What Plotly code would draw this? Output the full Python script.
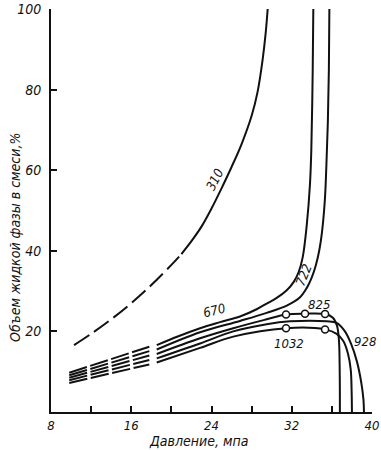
import plotly.graph_objects as go

# ---- data (pressure, MPa ; liquid volume, %) ----
p310_dash = [10.3, 12.0, 14.0, 16.0, 18.0, 20.0, 21.0]
v310_dash = [16.6, 19.4, 23.0, 27.0, 31.5, 36.5, 39.2]
p310 = [21.0, 22.0, 23.0, 24.0, 25.0, 26.0, 27.0, 28.0, 28.6, 29.1, 29.4, 29.6]
v310 = [39.2, 42.4, 46.0, 50.5, 55.5, 60.8, 66.5, 73.5, 79.5, 87.5, 94.0, 100.0]

p_bundle_dash = [9.82, 17.8]
v670_dash = [9.75, 16.2]
v722_dash = [9.1, 15.1]
v825_dash = [8.5, 14.0]
v928_dash = [7.9, 12.9]
v1032_dash = [7.2, 11.8]

p670 = [18.54, 20.7, 22.86, 24.85, 26.84, 28.5, 29.5, 30.5, 31.5, 32.2, 32.7, 33.1, 33.5, 33.82, 33.95, 34.09, 34.15]
v670 = [16.6, 18.8, 20.8, 22.3, 23.7, 25.5, 26.9, 28.3, 30.2, 32.3, 34.8, 38.5, 46.5, 56.7, 65.0, 85.0, 100.0]

p722 = [18.54, 22.86, 26.84, 29.5, 31.5, 32.8, 33.5, 34.0, 34.4, 34.75, 35.0, 35.3, 35.45, 35.6, 35.7, 35.75]
v722 = [15.5, 19.8, 22.6, 24.6, 26.4, 28.4, 30.8, 33.4, 36.4, 40.2, 44.3, 52.6, 61.0, 72.0, 85.0, 100.0]

p825 = [18.54, 22.86, 26.17, 29.5, 31.43, 33.32, 35.32, 36.1, 36.5, 36.7, 36.78, 36.8]
v825 = [14.4, 18.3, 20.8, 23.0, 24.2, 24.4, 24.3, 23.4, 21.5, 18.0, 10.0, 0.0]

p928 = [18.54, 22.86, 26.17, 29.5, 31.83, 35.49, 36.48, 37.3, 37.9, 38.5, 38.95, 39.15, 39.2]
v928 = [13.3, 17.0, 20.0, 21.8, 22.5, 22.5, 22.1, 20.0, 17.0, 12.5, 7.0, 3.0, 0.0]

p1032 = [18.54, 22.86, 26.17, 31.43, 35.32, 36.48, 37.14, 37.6, 37.88, 37.97, 38.0]
v1032 = [12.3, 15.9, 18.7, 20.8, 20.5, 19.4, 17.6, 14.5, 10.5, 5.0, 0.0]

p825_pts = [31.43, 33.32, 35.32]
v825_pts = [24.2, 24.4, 24.3]
p1032_pts = [31.43, 35.32]
v1032_pts = [20.8, 20.5]

label_text = ["310", "670", "722", "825", "928", "1032"]
label_p = [24.35, 24.25, 33.25, 34.7, 39.3, 31.73]
label_v = [57.6, 25.3, 34.0, 26.8, 17.4, 17.1]
label_angle = [-63, -14, -68, 0, 0, 0]

x_ticks = [8, 16, 24, 32, 40]
y_ticks = [20, 40, 60, 80, 100]
x_title = "Давление, мпа"
y_title = "Объем жидкой фазы в смеси,%"

FONT = "Liberation Sans Narrow, DejaVu Sans Condensed, Arial Narrow, sans-serif"
INK = "#111111"
LW = 2

fig = go.Figure()

def line(x, y, dash="solid"):
    fig.add_trace(go.Scatter(x=x, y=y, mode="lines",
                             line=dict(color=INK, width=LW, dash=dash, shape="spline", smoothing=1.0),
                             hoverinfo="skip", showlegend=False, cliponaxis=True))

line(p310_dash, v310_dash, dash="18px,6px")
line(p310, v310)
for vd in [v670_dash, v722_dash, v825_dash, v928_dash, v1032_dash]:
    line(p_bundle_dash, vd, dash="18.5px,3.5px")
for px_, vy_ in [(p670, v670), (p722, v722), (p825, v825), (p928, v928), (p1032, v1032)]:
    line(px_, vy_)

for px_, vy_ in [(p825_pts, v825_pts), (p1032_pts, v1032_pts)]:
    fig.add_trace(go.Scatter(x=px_, y=vy_, mode="markers",
                             marker=dict(symbol="circle", size=7, color="white",
                                         line=dict(color=INK, width=1.5)),
                             hoverinfo="skip", showlegend=False))

for t, xx, yy, a in zip(label_text, label_p, label_v, label_angle):
    fig.add_annotation(x=xx, y=yy, text=t, textangle=a, showarrow=False,
                       font=dict(family=FONT, size=13, color=INK, style="italic"))

fig.add_annotation(xref="paper", yref="paper", x=0.458, y=-0.071, text=x_title,
                   showarrow=False, xanchor="center", yanchor="middle",
                   font=dict(family=FONT, size=14, color=INK, style="italic"))
fig.add_annotation(xref="paper", yref="paper", x=-0.112, y=0.432, text=y_title,
                   textangle=-90, showarrow=False, xanchor="center", yanchor="middle",
                   font=dict(family=FONT, size=14, color=INK, style="italic"))

fig.update_xaxes(range=[8, 40], tickvals=x_ticks, ticks="inside", ticklen=6, tickwidth=1.5,
                 tickcolor=INK, showline=True, linecolor=INK, linewidth=2, showgrid=False,
                 zeroline=False, ticklabelstandoff=0, automargin=False,
                 minor=dict(dtick=4, tick0=8, ticks="inside", ticklen=6, tickwidth=1.5, tickcolor=INK, showgrid=False),
                 tickfont=dict(family=FONT, size=13, color=INK, style="italic"))
fig.update_yaxes(range=[0, 100], tickvals=y_ticks, ticks="inside", ticklen=6, tickwidth=1.5,
                 tickcolor=INK, showline=True, linecolor=INK, linewidth=2, showgrid=False,
                 zeroline=False, ticklabelstandoff=5, automargin=False,
                 tickfont=dict(family=FONT, size=14, color=INK, style="italic"))

fig.update_layout(width=381, height=450, margin=dict(l=51, r=9, t=9, b=38, autoexpand=False),
                  paper_bgcolor="white", plot_bgcolor="white")

fig.write_html("out.html", config={"displayModeBar": False},
               post_script="document.body.style.margin='0';")
